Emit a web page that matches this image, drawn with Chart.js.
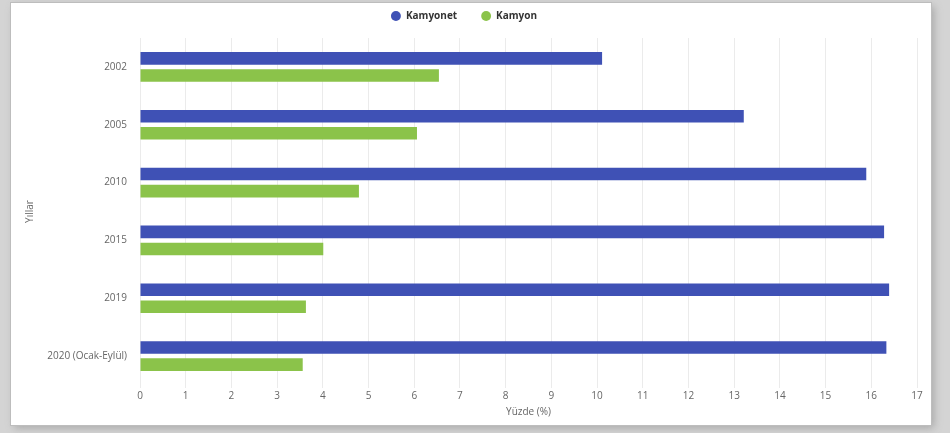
<!DOCTYPE html>
<html>
<head>
<meta charset="utf-8">
<script src="https://cdn.jsdelivr.net/npm/chart.js@4"></script>
<style>
  html, body { margin: 0; padding: 0; }
  body { width: 950px; height: 433px; background: #d4d4d4; position: relative; overflow: hidden; }
  .card {
    position: absolute; left: 11px; top: 3px; width: 920px; height: 422px;
    background: #fff; box-shadow: 0 0 0 1px #bdbdbd, 3px 3px 8px #a8a8a8;
  }
</style>
</head>
<body>
<div class="card"><canvas id="chart"></canvas></div>
<script>
// values (percent)
var years = ['2002', '2005', '2010', '2015', '2019', '2020 (Ocak-Eylül)'];
var kamyonet = [10.11, 13.21, 15.89, 16.28, 16.39, 16.33];
var kamyon = [6.54, 6.06, 4.79, 4.01, 3.63, 3.56];
var seriesNames = ['Kamyonet', 'Kamyon'];

// leave a bit more room under the legend
var legendGap = {
    id: 'legendGap',
    beforeInit: function(chart) {
        var fit = chart.legend.fit;
        chart.legend.fit = function() {
            fit.call(this);
            this.height += 7;
        };
    }
};

document.addEventListener('DOMContentLoaded', function() {
    var ctx = document.getElementById('chart').getContext('2d');
    var tickFont = { family: 'Open Sans', size: 10 };
    new Chart(ctx, {
        type: 'bar',
        data: {
            labels: years,
            datasets: [{
                label: seriesNames[0],
                data: kamyonet,
                backgroundColor: '#3f51b5'
            }, {
                label: seriesNames[1],
                data: kamyon,
                backgroundColor: '#8bc34a'
            }]
        },
        plugins: [legendGap],
        options: {
            indexAxis: 'y',
            responsive: true,
            maintainAspectRatio: false,
            animation: false,
            categoryPercentage: 0.59,
            barPercentage: 0.74,
            layout: { padding: { top: -16, right: 14, bottom: 0, left: 0 } },
            plugins: {
                tooltip: { enabled: false },
                legend: {
                    position: 'top',
                    labels: {
                        usePointStyle: true,
                        pointStyle: 'circle',
                        boxHeight: 7,
                        padding: 24,
                        color: '#333',
                        font: { family: 'Open Sans', size: 10, weight: 'bold' }
                    }
                }
            },
            scales: {
                x: {
                    min: 0,
                    max: 17,
                    ticks: { stepSize: 1, color: '#666', font: tickFont, padding: 2 },
                    grid: { color: '#ebebeb', tickLength: 3 },
                    border: { display: false },
                    title: {
                        display: true,
                        text: 'Yüzde (%)',
                        color: '#666',
                        font: { family: 'Open Sans', size: 10 },
                        padding: { top: 2, bottom: 7 }
                    }
                },
                y: {
                    ticks: { color: '#666', font: tickFont, padding: 13 },
                    grid: { display: false, drawTicks: false },
                    border: { color: '#ebebeb' },
                    title: {
                        display: true,
                        text: 'Yıllar',
                        color: '#666',
                        font: { family: 'Open Sans', size: 10 },
                        padding: 13
                    },
                    afterFit: function(scale) { scale.width = 129; }
                }
            }
        }
    });
});
</script>
</body>
</html>
